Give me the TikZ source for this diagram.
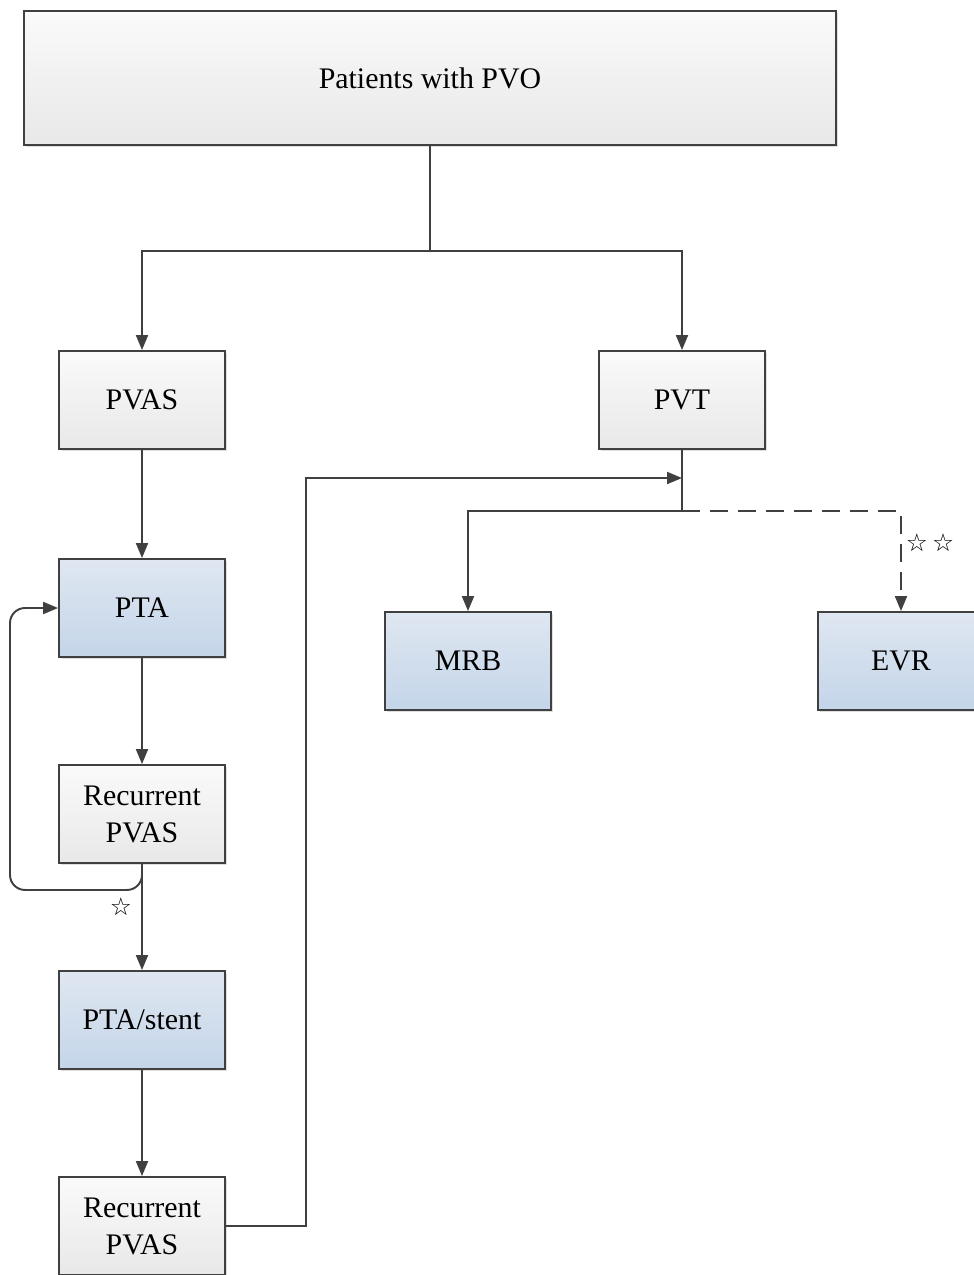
\documentclass[tikz,border=0pt]{standalone}
\usepackage{fontspec}
\setmainfont{Liberation Serif}
\newfontfamily\symfont{DejaVu Sans}
\usetikzlibrary{arrows.meta,shadows}
\definecolor{graytop}{RGB}{250,250,250}
\definecolor{graybot}{RGB}{232,232,232}
\definecolor{bluetop}{RGB}{223,231,241}
\definecolor{bluebot}{RGB}{196,213,233}
\definecolor{linec}{RGB}{64,64,64}
\begin{document}
\begin{tikzpicture}[x=0.02cm,y=-0.02cm,
  box/.style={draw=linec, line width=1.1pt, minimum width=3.32cm, minimum height=1.96cm,
    align=center, inner sep=0pt, font=\fontsize{17}{21}\selectfont,
    drop shadow={opacity=0.25, shadow xshift=0.04cm, shadow yshift=-0.04cm}},
  graybox/.style={box, top color=graytop, bottom color=graybot},
  bluebox/.style={box, top color=bluetop, bottom color=bluebot},
  conn/.style={draw=linec, line width=1.1pt},
  arr/.style={conn, -{Triangle[length=0.3cm,width=0.24cm]}},
  star/.style={font=\symfont\fontsize{14}{16}\selectfont, inner sep=0pt, text=black}
]
\useasboundingbox (0,0) rectangle (974,1275);
\clip (0,0) rectangle (974,1275);
\fill[white] (0,0) rectangle (974,1275);

\node[graybox, minimum width=16.24cm, minimum height=2.68cm] (top) at (430,78) {Patients with PVO};
\node[graybox] (pvas) at (142,400) {PVAS};
\node[graybox] (pvt) at (682,400) {PVT};
\node[bluebox] (pta) at (142,608) {PTA};
\node[graybox] (rec1) at (142,814) {Recurrent\\PVAS};
\node[bluebox] (stent) at (142,1020) {PTA/stent};
\node[graybox] (rec2) at (142,1226) {Recurrent\\PVAS};
\node[bluebox] (mrb) at (468,661) {MRB};
\node[bluebox] (evr) at (901,661) {EVR};

\draw[conn] (top.south) -- ++(0,105) coordinate (split);
\draw[arr] (split) -| (pvas.north);
\draw[arr] (split) -| (pvt.north);

\draw[arr] (pvas) -- (pta);
\draw[arr] (pta) -- (rec1);
\draw[arr] (rec1) -- (stent);
\draw[arr] (stent) -- (rec2);

\draw[arr, rounded corners=0.3cm] (rec1.south) -- ++(0,26) -- ++(-132,0) |- (pta.west);
\node[star] (s1) at (121,907) {☆};

\draw[arr] (rec2.east) -- ++(80,0) |- (pvt.south |- 0,478);

\draw[conn] (pvt.south) -- ++(0,61) coordinate (pvtsplit);
\draw[arr] (pvtsplit) -| (mrb.north);
\draw[arr, dash pattern=on 0.36cm off 0.2cm] (pvtsplit) -| (evr.north);
\node[star] (s2) at (930,543) {☆\,☆};
\end{tikzpicture}
\end{document}
